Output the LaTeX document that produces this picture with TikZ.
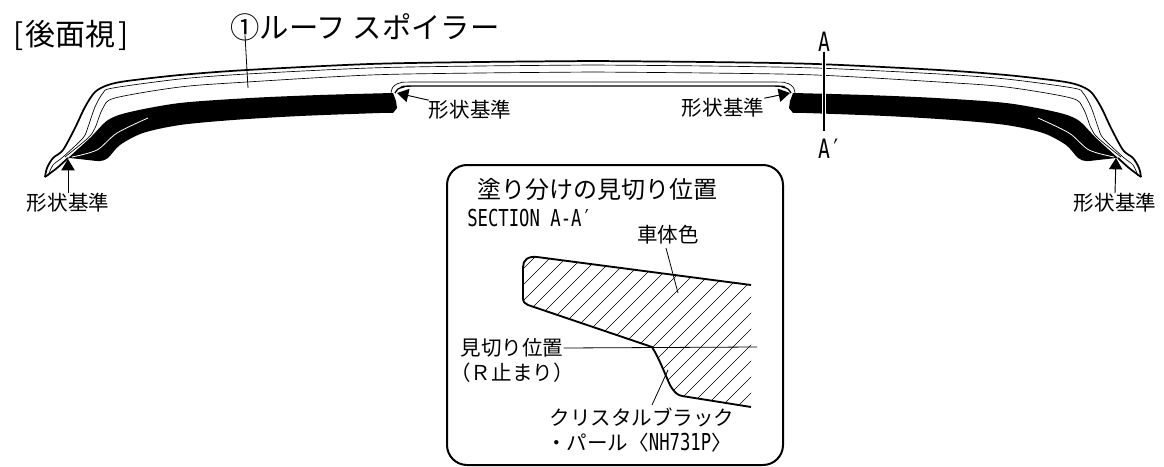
\documentclass[tikz,border=0pt]{standalone}
\usepackage{fontspec}
\setmainfont{Noto Sans CJK JP}
\newfontfamily\latinfont[FakeStretch=0.74]{DejaVu Sans Mono}
\usetikzlibrary{arrows.meta}
\tikzset{
  labelsmall/.style={inner sep=0pt,font=\fontsize{15.4}{18}\selectfont},
  labelbig/.style={inner sep=0pt,font=\fontsize{22}{24}\selectfont},
  latinlabel/.style={inner sep=0pt,font=\latinfont\fontsize{17.5}{20}\selectfont},
  outerline/.style={line width=1.3pt,line join=round},
  thinline/.style={line width=0.5pt},
  leader/.style={line width=0.6pt},
  arrowleader/.style={line width=0.7pt,-{Triangle[length=8.5pt,width=10pt]}}
}
\newcommand{\halfspoiler}{%
\draw[outerline] plot[smooth] coordinates {(45,177)(47,168)(53,158)(63,150)(75,128)(85,107)(95,92)(108,85)(127,81)(180,75)(247,70)(370,64)(480,62)(593,61)};
\draw[outerline] plot[smooth] coordinates {(45,177)(57,168)(68,158)};
\draw[thinline] plot[smooth] coordinates {(48,176)(53,165)(63,157)(83,138)(88,127)(95,107)(103,93)(113,88)(180,79)(247,74)(370,68)(480,66)(593,65)};
\draw[thinline] plot[smooth] coordinates {(65,157)(88,138)(95,128)(103,108)(115,98)(180,87)(247,82)(370,75)(480,73)(593,72)};
\fill plot[smooth] coordinates {(68,158)(90,138)(108,120)(130,112)(180,103)(250,98)(320,95)(393,93)}
 -- (396,101) -- (397,108) -- (393,113)
 -- plot[smooth] coordinates {(380,113)(300,116)(233,120)(180,125)(143,133)(120,145)(108,158)(100,161)(88,160)(70,158)} -- cycle;
\draw[white,line width=0.6pt] plot[smooth] coordinates {(72,157)(97,150)(117,133)(148,118)};
\draw[thinline] plot[smooth] coordinates {(391,93)(393,87)(400,83)(420,82)(593,82)};
\draw[line width=1pt] plot[smooth] coordinates {(395,93)(398,89)(404,87)(420,86)(593,86)};
}
\begin{document}
\begin{tikzpicture}[x=0.75pt,y=-0.75pt]
\useasboundingbox (0,0) rectangle (1164,467);
\halfspoiler
\begin{scope}[shift={(1186,0)},xscale=-1]
\halfspoiler
\end{scope}
%
\node[labelbig,font=\fontsize{22.5}{24}\selectfont] (viewtitle) at (71,35) {[\kern2pt後面視\kern2pt]};
\node[labelbig] (parttitle) at (365,27) {①ルーフ スポイラー};
\coordinate (partend) at (248,88);
\draw[leader] (245,35)--(partend);
%
\node[latinlabel,font=\latinfont\fontsize{20}{22}\selectfont] (secA) at (824,42) {A};
\node[latinlabel,font=\latinfont\fontsize{20}{22}\selectfont] (secAp) at (824,149) {A\rlap{′}};
\draw[white,line width=3.5pt] (824,60)--(824,122);
\draw[line width=1.3pt,shorten >=6pt] (secA.south)--(secAp.north);
%
\node[labelsmall] (baseL) at (68,203) {形状基準};
\node[labelsmall] (baseR) at (1115,203) {形状基準};
\node[labelsmall] (baseNL) at (470,110) {形状基準};
\node[labelsmall] (baseNR) at (723,108) {形状基準};
\coordinate (tipL) at (68,159);
\coordinate (tipR) at (1116,158);
\coordinate (tipNL) at (397,93);
\coordinate (tipNR) at (790,93);
\draw[arrowleader] (baseL.north)--(tipL);
\draw[arrowleader] (baseR.north)--(tipR);
\draw[arrowleader] (baseNL.north west)--(tipNL);
\draw[arrowleader] (baseNR.north east)--(tipNR);
%
\draw[line width=1.5pt,rounded corners=15pt] (447,165) rectangle (783,465);
\node[labelbig,font=\fontsize{18}{20}\selectfont] (boxtitle) at (597,189) {塗り分けの見切り位置};
\node[latinlabel,anchor=west] (sectitle) at (467,218) {SECTION A-A′};
%
\begin{scope}
\clip (751,285)--(537,257)..controls (528,256) and (523,260)..(523,267)--(523,298)..controls (523,302) and (525,304)..(528,305)--(652,347)..controls (660,360) and (664,372)..(670,385)..controls (674,392) and (677,395)..(682,396)--(751,407)--cycle;
\foreach \c in {792,808,...,1160}
  \draw[thinline] (\c-420,420)--(\c-240,240);
\end{scope}
\draw[line width=1.4pt,line join=round] (751,285)--(537,257)..controls (528,256) and (523,260)..(523,267)--(523,298)..controls (523,302) and (525,304)..(528,305)--(652,347)..controls (660,360) and (664,372)..(670,385)..controls (674,392) and (677,395)..(682,396)--(751,407);
%
\node[labelsmall] (bodycolor) at (668,235) {車体色};
\node[labelsmall] (partline) at (512,348) {見切り位置};
\node[labelsmall] (rstop) at (512,373) {（Ｒ止まり）};
\node[labelsmall] (blackA) at (642,417) {クリスタルブラック};
\node[labelsmall] (blackB) at (639,443) {・パール〈{\latinfont\fontsize{17.5}{18}\selectfont NH731P}〉};
\coordinate (bodyend) at (678,293);
\coordinate (partlineend) at (757,347);
\coordinate (blackend) at (668,370);
\draw[leader] (666,248)--(bodyend);
\draw[leader] (partline.east)--(partlineend);
\draw[leader] (652,405)--(blackend);
\end{tikzpicture}
\end{document}
